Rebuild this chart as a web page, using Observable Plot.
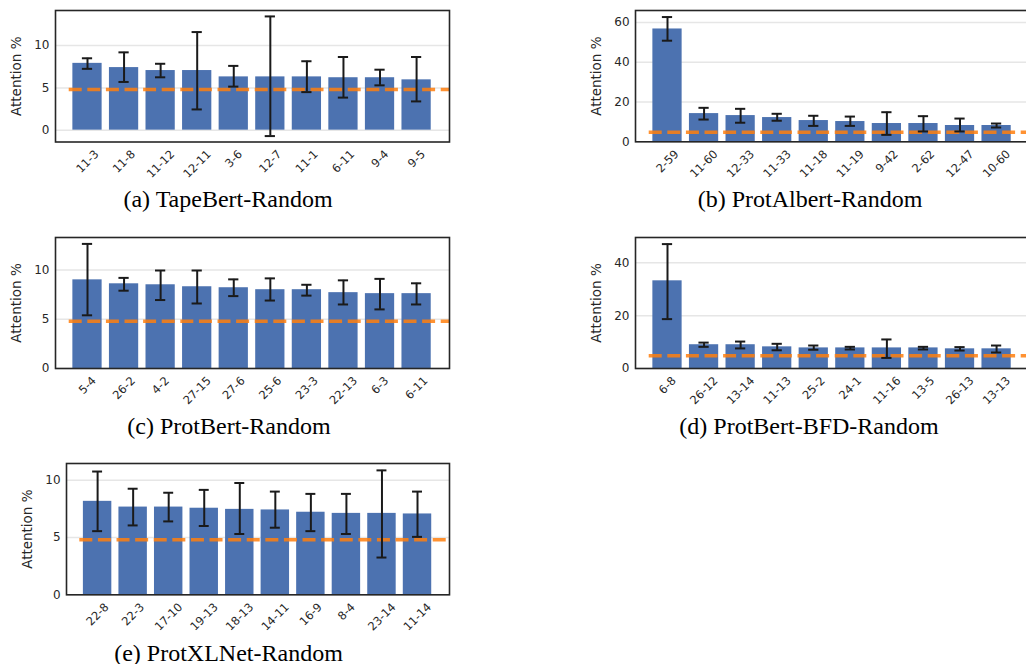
<!DOCTYPE html>
<html><head><meta charset="utf-8">
<script src="https://cdn.jsdelivr.net/npm/d3@7"></script>
<script src="https://cdn.jsdelivr.net/npm/@observablehq/plot@0.6"></script>
<style>
html,body{margin:0;padding:0;background:#fff;overflow:hidden;}
#fig{position:relative;width:1026px;height:664px;overflow:hidden;background:#fff;}
.panel{position:absolute;}
#caps{position:absolute;left:0;top:0;}
</style></head><body><div id="fig"></div>
<script>
// Random baseline (dashed orange line)
const baselineValue = 4.8;
const yLabel = "Attention %";

// (a) TapeBert-Random
const tapeLabels = ["11-3","11-8","11-12","12-11","3-6","12-7","11-1","6-11","9-4","9-5"];
const tapeMean   = [7.9, 7.4, 7.05, 7.05, 6.3, 6.3, 6.3, 6.2, 6.2, 5.95];
const tapeLo     = [7.25, 5.7, 6.25, 2.45, 5.15, -0.7, 4.5, 3.85, 5.3, 3.4];
const tapeHi     = [8.5, 9.2, 7.85, 11.6, 7.6, 13.45, 8.15, 8.65, 7.15, 8.65];
const tapeTicks  = [0, 5, 10];

// (b) ProtAlbert-Random
const albertLabels = ["2-59","11-60","12-33","11-33","11-18","11-19","9-42","2-62","12-47","10-60"];
const albertMean   = [56.8, 14.2, 13.2, 12.2, 10.7, 10.2, 9.2, 9.2, 8.2, 8.2];
const albertLo     = [50.9, 11.2, 9.6, 10.6, 8.0, 8.0, 3.5, 5.2, 5.2, 7.2];
const albertHi     = [62.8, 17.1, 16.6, 14.1, 13.1, 12.7, 14.9, 12.9, 11.7, 9.2];
const albertTicks  = [0, 20, 40, 60];

// (c) ProtBert-Random
const bertLabels = ["5-4","26-2","4-2","27-15","27-6","25-6","23-3","22-13","6-3","6-11"];
const bertMean   = [9.0, 8.6, 8.5, 8.3, 8.2, 8.0, 8.0, 7.7, 7.6, 7.6];
const bertLo     = [5.4, 7.9, 6.95, 6.6, 7.35, 6.9, 7.4, 6.5, 6.0, 6.5];
const bertHi     = [12.65, 9.2, 9.95, 9.95, 9.05, 9.15, 8.5, 8.95, 9.1, 8.65];
const bertTicks  = [0, 5, 10];

// (d) ProtBert-BFD-Random
const bfdLabels = ["6-8","26-12","13-14","11-13","25-2","24-1","11-16","13-5","26-13","13-13"];
const bfdMean   = [33.2, 9.0, 9.0, 8.2, 7.8, 7.8, 7.8, 7.8, 7.45, 7.45];
const bfdLo     = [18.7, 8.2, 7.6, 6.9, 7.1, 7.2, 4.0, 7.2, 6.8, 6.05];
const bfdHi     = [47.1, 9.8, 10.2, 9.35, 8.7, 8.2, 11.0, 8.2, 8.1, 8.7];
const bfdTicks  = [0, 20, 40];

// (e) ProtXLNet-Random
const xlnetLabels = ["22-8","22-3","17-10","19-13","18-13","14-11","16-9","8-4","23-14","11-14"];
const xlnetMean   = [8.15, 7.65, 7.65, 7.55, 7.45, 7.4, 7.2, 7.1, 7.1, 7.05];
const xlnetLo     = [5.55, 6.05, 6.4, 6.0, 5.3, 5.85, 5.55, 5.3, 3.25, 5.05];
const xlnetHi     = [10.75, 9.25, 8.9, 9.15, 9.75, 9.0, 8.8, 8.8, 10.85, 9.0];
const xlnetTicks  = [0, 5, 10];

const captions = ["(a) TapeBert-Random","(b) ProtAlbert-Random","(c) ProtBert-Random","(d) ProtBert-BFD-Random","(e) ProtXLNet-Random"];

// layout
const panels = [
  {labels:tapeLabels, mean:tapeMean, lo:tapeLo, hi:tapeHi, ticks:tapeTicks, yDomain:[-1.4,14.15], fx:55, fy:10, fw:394, fh:131.5, cx:228, cy:207, caption:captions[0]},
  {labels:albertLabels, mean:albertMean, lo:albertLo, hi:albertHi, ticks:albertTicks, yDomain:[0,66.1], fx:635, fy:10, fw:394, fh:131.3, cx:810, cy:206.5, caption:captions[1]},
  {labels:bertLabels, mean:bertMean, lo:bertLo, hi:bertHi, ticks:bertTicks, yDomain:[0,13.3], fx:55, fy:237, fw:394, fh:131, cx:229, cy:434, caption:captions[2]},
  {labels:bfdLabels, mean:bfdMean, lo:bfdLo, hi:bfdHi, ticks:bfdTicks, yDomain:[0,49.6], fx:635, fy:237, fw:394, fh:131, cx:809, cy:434, caption:captions[3]},
  {labels:xlnetLabels, mean:xlnetMean, lo:xlnetLo, hi:xlnetHi, ticks:xlnetTicks, yDomain:[0,11.45], fx:66, fy:463, fw:383, fh:131.3, cx:228.5, cy:660.5, caption:captions[4]}
];

const fig = document.getElementById("fig");
const ML = 60, MR = 5, MT = 5, MB = 55;
const ink = "#262626";
const xfs = 11.5;

function labelLen(s) {
  let w = 0;
  for (const c of s) w += (c === "-" ? 0.361 : 0.636);
  return w * xfs;
}

for (const p of panels) {
  const data = p.labels.map((l, i) => ({l, i, m: p.mean[i], lo: p.lo[i], hi: p.hi[i]}));
  const lens = [...new Set(p.labels.map(l => l.length))];
  const labelMarks = lens.map(n => {
    const sub = data.filter(d => d.l.length === n);
    const L = labelLen(sub[0].l);
    return Plot.text(sub, {x: "i", frameAnchor: "bottom", text: "l", rotate: -45,
      textAnchor: "middle", lineAnchor: "middle", fontSize: xfs, fill: ink,
      dy: 7.5 + (L + 8) * 0.3535});
  });
  const chart = Plot.plot({
    width: p.fw + ML + MR, height: p.fh + MT + MB,
    marginLeft: ML, marginRight: MR, marginTop: MT, marginBottom: MB,
    style: {fontFamily: "DejaVu Sans, sans-serif", background: "transparent", color: ink, overflow: "visible"},
    x: {domain: [-0.875, 9.9], axis: null},
    y: {domain: p.yDomain, axis: null},
    marks: [
      Plot.gridY(p.ticks, {stroke: "#e6e6e6", strokeOpacity: 1, strokeWidth: 1.5}),
      Plot.rectY(data, {x1: d => d.i - 0.4, x2: d => d.i + 0.4, y1: 0, y2: "m", fill: "#4c72b0"}),
      Plot.ruleY([baselineValue], {x1: -0.5, x2: 12, stroke: "#ff7f0e", strokeOpacity: 0.85, strokeWidth: 3.5, strokeDasharray: "13,5.6", clip: true}),
      Plot.ruleX(data, {x: "i", y1: "lo", y2: "hi", stroke: "#1a1a1a", strokeWidth: 2}),
      Plot.ruleY(data, {y: "hi", x1: d => d.i - 0.14, x2: d => d.i + 0.14, stroke: "#1a1a1a", strokeWidth: 2}),
      Plot.ruleY(data, {y: "lo", x1: d => d.i - 0.14, x2: d => d.i + 0.14, stroke: "#1a1a1a", strokeWidth: 2}),
      Plot.frame({stroke: ink, strokeWidth: 1.6}),
      Plot.axisY(p.ticks, {tickSize: 0, tickPadding: 6, fontSize: 12, label: null, fill: ink}),
      ...labelMarks,
      Plot.text([yLabel], {frameAnchor: "left", textAnchor: "middle", lineAnchor: "middle", rotate: -90, dx: -38.5, fontSize: 13.5, fill: ink, text: d => d})
    ]
  });
  chart.classList.add("panel");
  chart.style.left = (p.fx - ML) + "px";
  chart.style.top = (p.fy - MT) + "px";
  fig.appendChild(chart);
}

// captions
const svg = d3.select(fig).append("svg").attr("id", "caps").attr("width", 1026).attr("height", 664);
svg.selectAll("text").data(panels).join("text")
  .attr("x", d => d.cx).attr("y", d => d.cy)
  .attr("text-anchor", "middle")
  .attr("font-family", "Liberation Serif, Times New Roman, serif")
  .attr("font-size", 24).attr("fill", "#000")
  .text(d => d.caption);
</script>
</body></html>
